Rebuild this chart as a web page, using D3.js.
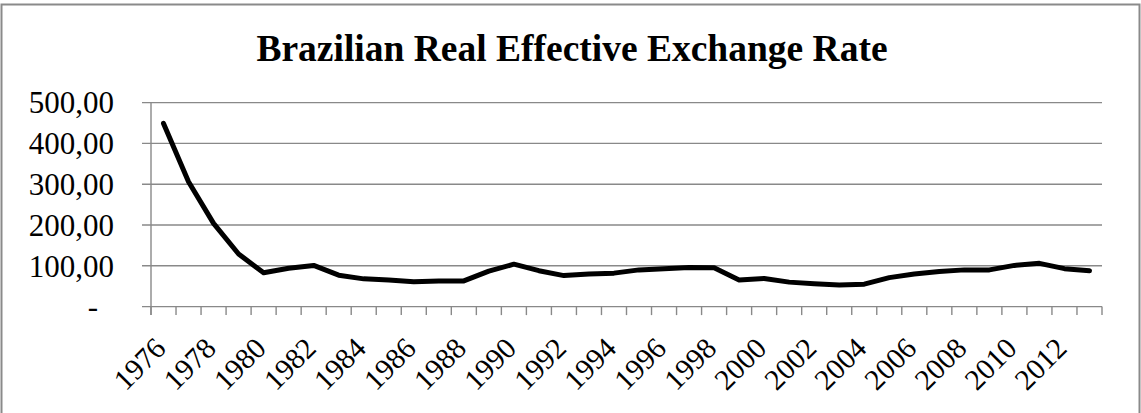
<!DOCTYPE html>
<html>
<head>
<meta charset="utf-8">
<script src="https://cdn.jsdelivr.net/npm/d3@7"></script>
<style>
  html, body { margin: 0; padding: 0; background: #fff; }
  svg { display: block; }
  text { font-family: "Liberation Serif", "Times New Roman", serif; fill: #000; }
</style>
</head>
<body>
<svg id="chart" width="1141" height="413"></svg>
<script>
// Real effective exchange rate index, yearly
const years = [1976, 1977, 1978, 1979, 1980, 1981, 1982, 1983, 1984, 1985,
               1986, 1987, 1988, 1989, 1990, 1991, 1992, 1993, 1994, 1995,
               1996, 1997, 1998, 1999, 2000, 2001, 2002, 2003, 2004, 2005,
               2006, 2007, 2008, 2009, 2010, 2011, 2012, 2013];
const rate = [449, 306, 204, 129, 83, 94, 101, 77, 68, 65,
              61, 63, 63, 87, 104, 88, 76, 80, 82, 90,
              93, 96, 95, 65, 69, 60, 56, 53, 55, 71,
              80, 86, 90, 90, 101, 106, 93, 88];
const yTicks = [0, 100, 200, 300, 400, 500];
const yTickLabels = ["-", "100,00", "200,00", "300,00", "400,00", "500,00"];
const xLabelYears = years.filter((y, i) => i % 2 === 0);
const title = "Brazilian Real Effective Exchange Rate";

const svg = d3.select("#chart");
const gridColor = "#898989";

// chart frame
svg.append("rect")
  .attr("x", 1.5).attr("y", 4.5)
  .attr("width", 1138).attr("height", 430)
  .attr("fill", "none").attr("stroke", "#8a8a8a").attr("stroke-width", 2);

const x = d3.scaleBand().domain(years).range([151, 1102]).padding(0);
const y = d3.scaleLinear().domain([0, 500]).range([306.6, 102.6]);

// horizontal gridlines with left tick marks
svg.append("g").selectAll("line").data(yTicks).join("line")
  .attr("x1", 142).attr("x2", 1102)
  .attr("y1", d => y(d)).attr("y2", d => y(d))
  .attr("stroke", gridColor).attr("stroke-width", 1.4);

// vertical value axis
svg.append("line")
  .attr("x1", 151).attr("x2", 151)
  .attr("y1", y(500)).attr("y2", y(0) + 8.5)
  .attr("stroke", gridColor).attr("stroke-width", 1.4);

// category tick marks at band boundaries
const bounds = years.map(d => x(d)).concat([x.range()[1]]);
svg.append("g").selectAll("line").data(bounds).join("line")
  .attr("x1", d => d).attr("x2", d => d)
  .attr("y1", y(0)).attr("y2", y(0) + 8.5)
  .attr("stroke", gridColor).attr("stroke-width", 1.4);

// value labels
svg.append("g").selectAll("text").data(yTicks).join("text")
  .attr("x", (d, i) => i === 0 ? 98 : 114)
  .attr("y", d => y(d))
  .attr("dy", "0.35em")
  .attr("text-anchor", "end")
  .attr("font-size", 31)
  .text((d, i) => yTickLabels[i]);

// year labels, rotated
svg.append("g").selectAll("text").data(xLabelYears).join("text")
  .attr("transform", d => `translate(${x(d) + x.bandwidth() / 2 + 4},350) rotate(-45)`)
  .attr("text-anchor", "end")
  .attr("font-size", 29.5)
  .text(d => d);

// series line
const line = d3.line()
  .x((d, i) => x(years[i]) + x.bandwidth() / 2)
  .y(d => y(d));
svg.append("path")
  .datum(rate)
  .attr("d", line)
  .attr("fill", "none")
  .attr("stroke", "#000")
  .attr("stroke-width", 5)
  .attr("stroke-linejoin", "round")
  .attr("stroke-linecap", "round");

// title
svg.append("text")
  .attr("x", 572).attr("y", 61)
  .attr("text-anchor", "middle")
  .attr("font-size", 37.5)
  .attr("font-weight", "bold")
  .text(title);
</script>
</body>
</html>
